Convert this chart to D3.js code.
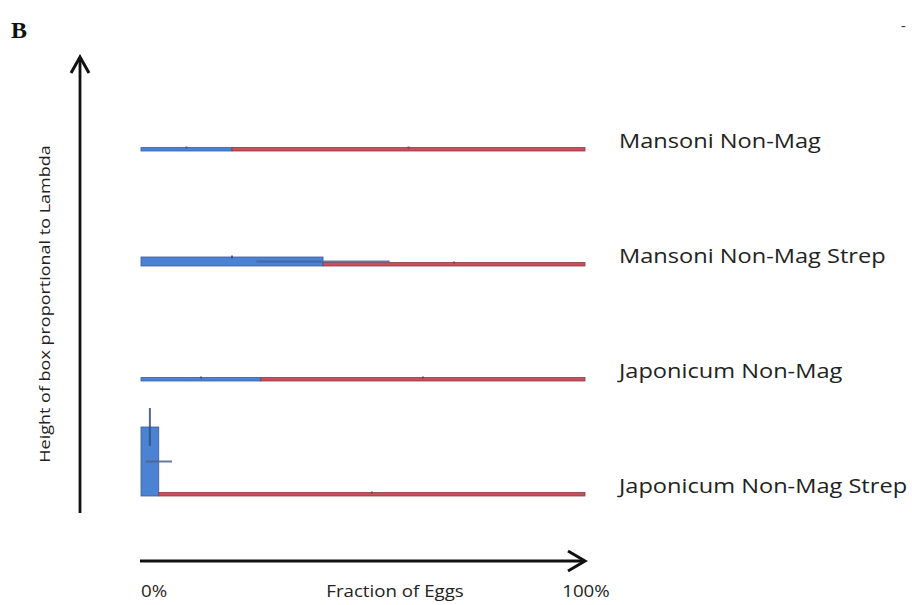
<!DOCTYPE html>
<html>
<head>
<meta charset="utf-8">
<script src="https://cdn.jsdelivr.net/npm/d3@7"></script>
<style>
  html, body { margin: 0; padding: 0; background: #fff; }
  svg { display: block; }
</style>
</head>
<body>
<svg id="chart" width="912" height="605"></svg>
<script>
// Groups, top to bottom
const groups = ["Mansoni Non-Mag", "Mansoni Non-Mag Strep", "Japonicum Non-Mag", "Japonicum Non-Mag Strep"];
// Fraction of eggs in the first (blue) class for each group; the rest is the red class
const blueFraction = [0.205, 0.41, 0.27, 0.04];
const blueFractionErr = [0.0, 0.15, 0.0, 0.03];
// Lambda for each class (box height)
const blueLambda = [0.035, 0.09, 0.035, 0.69];
const blueLambdaErr = [0.01, 0.015, 0.01, 0.19];
const redLambda = [0.035, 0.035, 0.035, 0.035];
const redLambdaErr = [0.01, 0.01, 0.01, 0.01];
// Axis labels
const xTickLabels = ["0%", "100%"];
const xTitle = "Fraction of Eggs";
const yTitle = "Height of box proportional to Lambda";

const svg = d3.select("#chart");
const x = d3.scaleLinear().domain([0, 1]).range([141, 585]);
const row = d3.scalePoint().domain(groups).range([151, 496]);
const h = d3.scaleLinear().domain([0, 1]).range([0, 100]);

const blueFill = "#4b82d2", blueStroke = "#3a5ca4";
const redFill = "#c84f5c", redStroke = "#8f3a46";

// Build the boxes from the arrays
const boxes = [];
groups.forEach((g, i) => {
  boxes.push({ g, cls: "blue", x0: 0, x1: blueFraction[i], lam: blueLambda[i], lamErr: blueLambdaErr[i], fErr: blueFractionErr[i] });
  boxes.push({ g, cls: "red", x0: blueFraction[i], x1: 1, lam: redLambda[i], lamErr: redLambdaErr[i], fErr: 0 });
});

const plot = svg.append("g");
plot.selectAll("rect.box").data(boxes).join("rect")
  .attr("class", "box")
  .attr("x", d => x(d.x0))
  .attr("width", d => x(d.x1) - x(d.x0))
  .attr("y", d => row(d.g) - h(d.lam))
  .attr("height", d => h(d.lam))
  .attr("fill", d => d.cls === "blue" ? blueFill : redFill)
  .attr("stroke", d => d.cls === "blue" ? blueStroke : redStroke)
  .attr("stroke-width", 0.8);

// Vertical error bars (lambda) at the centre top of each box
plot.selectAll("line.lerr").data(boxes).join("line")
  .attr("class", "lerr")
  .attr("x1", d => x((d.x0 + d.x1) / 2))
  .attr("x2", d => x((d.x0 + d.x1) / 2))
  .attr("y1", d => row(d.g) - h(d.lam + d.lamErr))
  .attr("y2", d => row(d.g) - h(Math.max(0, d.lam - d.lamErr)))
  .attr("stroke", d => d.cls === "blue" ? "#34507a" : "#7d3a44")
  .attr("stroke-width", 2)
  .attr("opacity", 0.85);

// Horizontal error bars (fraction) at the boundary, mid-height of the blue box
plot.selectAll("line.ferr").data(boxes.filter(d => d.cls === "blue" && d.fErr > 0)).join("line")
  .attr("class", "ferr")
  .attr("x1", d => x(d.x1 - d.fErr))
  .attr("x2", d => x(d.x1 + d.fErr))
  .attr("y1", d => row(d.g) - h(d.lam) / 2)
  .attr("y2", d => row(d.g) - h(d.lam) / 2)
  .attr("stroke", "#4a6590")
  .attr("stroke-width", 2)
  .attr("opacity", 0.85);

// Group labels (wide-set text)
const labFont = "Open Sans, sans-serif";
svg.append("g").selectAll("text").data(groups).join("text")
  .attr("transform", d => `translate(619,${row(d) - 8}) scale(1.18,1)`)
  .attr("dominant-baseline", "middle")
  .attr("font-family", labFont)
  .attr("font-size", 20)
  .attr("fill", "#222")
  .text(d => d);

// Axis arrows
const axisY = 561, axisX = 80;
svg.append("line").attr("x1", x(0) - 1).attr("x2", x(1) - 2).attr("y1", axisY).attr("y2", axisY)
  .attr("stroke", "#111").attr("stroke-width", 2.8);
svg.append("path")
  .attr("d", `M${x(1) - 17},${axisY - 10} L${x(1)},${axisY} L${x(1) - 17},${axisY + 10}`)
  .attr("fill", "none").attr("stroke", "#111").attr("stroke-width", 3).attr("stroke-linejoin", "miter");

svg.append("line").attr("x1", axisX).attr("x2", axisX).attr("y1", 513).attr("y2", 59)
  .attr("stroke", "#111").attr("stroke-width", 2.8);
svg.append("path")
  .attr("d", `M${axisX - 9},${73} L${axisX},${57} L${axisX + 9},${73}`)
  .attr("fill", "none").attr("stroke", "#111").attr("stroke-width", 3).attr("stroke-linejoin", "miter");

// Axis labels
svg.append("text").attr("transform", `translate(${x(0)},597) scale(1.1,1)`).attr("font-family", labFont)
  .attr("font-size", 17).attr("fill", "#222").text(xTickLabels[0]);
svg.append("text").attr("transform", `translate(${x(1) + 1},597) scale(1.1,1)`).attr("text-anchor", "middle")
  .attr("font-family", labFont).attr("font-size", 17).attr("fill", "#222").text(xTickLabels[1]);
svg.append("text").attr("transform", "translate(395,597) scale(1.1,1)").attr("text-anchor", "middle")
  .attr("font-family", labFont).attr("font-size", 17).attr("fill", "#222").text(xTitle);
svg.append("text").attr("transform", "translate(50,304) rotate(-90) scale(1.2,1)").attr("text-anchor", "middle")
  .attr("font-family", labFont).attr("font-size", 15).attr("fill", "#222").text(yTitle);

// Panel letter
svg.append("text").attr("x", 11).attr("y", 38).attr("font-family", "Liberation Serif, serif")
  .attr("font-weight", "bold").attr("font-size", 24).attr("fill", "#111").text("B");
svg.append("text").attr("x", 901).attr("y", 30).attr("font-family", "Liberation Serif, serif")
  .attr("font-size", 14).attr("fill", "#333").text("-");
</script>
</body>
</html>
